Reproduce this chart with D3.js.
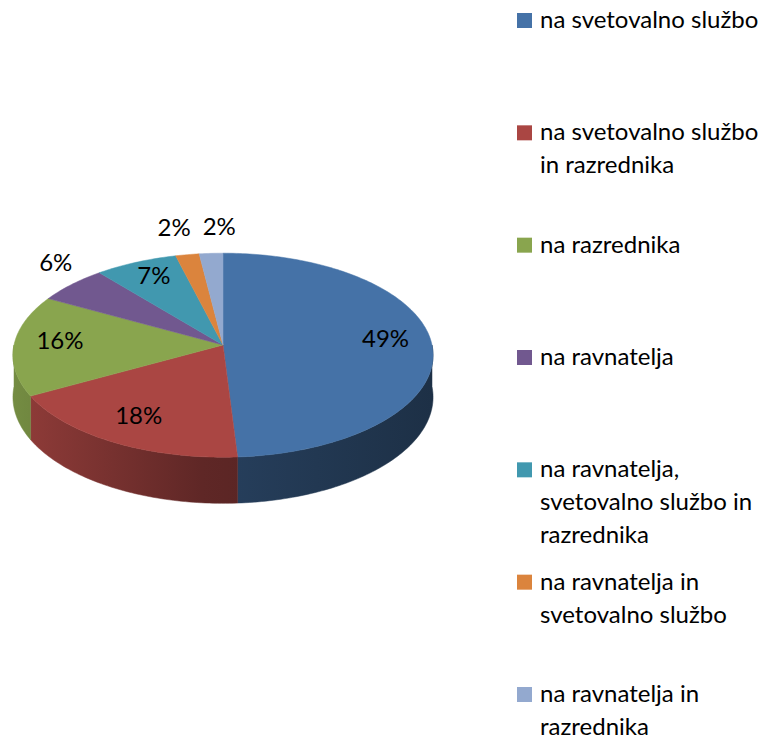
<!DOCTYPE html>
<html>
<head>
<meta charset="utf-8">
<script src="https://cdn.jsdelivr.net/npm/d3@7"></script>
<style>
  body { margin: 0; background: #fff; }
  svg { display: block; font-family: Lato, "Open Sans", sans-serif; }
</style>
</head>
<body>
<div id="chart"></div>
<script>
// legend entries, already broken into lines as in the original
const categories = [
  ["na svetovalno službo"],
  ["na svetovalno službo", "in razrednika"],
  ["na razrednika"],
  ["na ravnatelja"],
  ["na ravnatelja,", "svetovalno službo in", "razrednika"],
  ["na ravnatelja in", "svetovalno službo"],
  ["na ravnatelja in", "razrednika"]
];
const values = [49, 18, 16, 6, 7, 2, 2];
const colors = ["#4572A7", "#AA4643", "#89A54E", "#71588F", "#4198AF", "#DB843D", "#93A9CF"];

const width = 767, height = 740;

// tilted pie with a bit of perspective
const cx = 223, cy = 345;
const rx = 209, ry = 101, persp = 0.1, depth = 41.5;
const insideMin = 7;

function project(theta, r = 1, drop = 0) {
  const s = Math.sin(theta), c = Math.cos(theta);
  const w = 1 + persp * r * c;
  return [cx + rx * r * s / w, cy - ry * r * c / w + drop / (1 + persp * c)];
}

function arcPoints(a0, a1, drop) {
  const n = Math.max(2, Math.ceil((a1 - a0) / (Math.PI / 180)));
  return d3.range(n + 1).map(i => project(a0 + (a1 - a0) * i / n, 1, drop));
}

const svg = d3.select("#chart")
  .append("svg")
  .attr("width", width)
  .attr("height", height);

const color = d3.scaleOrdinal().domain(d3.range(values.length)).range(colors);

const arcs = d3.pie().sort(null).value(d => d)(values);
const total = d3.sum(values);

// side shading: lighter on the left, dark on the right
const defs = svg.append("defs");
arcs.forEach((d, i) => {
  const base = d3.rgb(color(i));
  const g = defs.append("linearGradient")
    .attr("id", `side${i}`)
    .attr("gradientUnits", "userSpaceOnUse")
    .attr("x1", cx - rx).attr("x2", cx + rx)
    .attr("y1", 0).attr("y2", 0);
  [[0, 0.85], [0.45, 0.56], [1, 0.42]].forEach(([o, f]) => {
    g.append("stop")
      .attr("offset", o)
      .attr("stop-color", d3.rgb(base.r * f, base.g * f, base.b * f).formatHex());
  });
});

const line = d3.line();

// outer walls, front half only
svg.append("g").selectAll("path")
  .data(arcs.filter(d => d.endAngle > Math.PI / 2 && d.startAngle < 3 * Math.PI / 2))
  .join("path")
  .attr("d", d => {
    const a0 = Math.max(d.startAngle, Math.PI / 2);
    const a1 = Math.min(d.endAngle, 3 * Math.PI / 2);
    const pts = arcPoints(a0, a1, 0).concat(arcPoints(a0, a1, depth).reverse());
    return line(pts) + "Z";
  })
  .attr("fill", d => `url(#side${d.index})`)
  .attr("stroke", d => `url(#side${d.index})`)
  .attr("stroke-width", 0.5);

// top faces
svg.append("g").selectAll("path")
  .data(arcs)
  .join("path")
  .attr("d", d => line([project(0, 0)].concat(arcPoints(d.startAngle, d.endAngle, 0))) + "Z")
  .attr("fill", d => color(d.index))
  .attr("stroke", d => color(d.index))
  .attr("stroke-width", 0.5);

// data labels
const fmt = v => Math.round(v / total * 100) + "%";
const labelSize = 24;
const labels = svg.append("g")
  .attr("font-size", labelSize)
  .attr("fill", "#000")
  .attr("text-anchor", "middle");

const inner = arcs.filter(d => d.data >= insideMin);
labels.selectAll("text.in")
  .data(inner)
  .join("text")
  .attr("class", "in")
  .attr("dy", "0.35em")
  .attr("x", d => project((d.startAngle + d.endAngle) / 2, 0.78)[0])
  .attr("y", d => project((d.startAngle + d.endAngle) / 2, 0.78)[1] - 4)
  .text(d => fmt(d.data));

const outer = arcs.filter(d => d.data < insideMin).map(d => {
  const mid = (d.startAngle + d.endAngle) / 2;
  const [ex, ey] = project(mid, 1);
  return { d, mid, ex, ey };
});
const outerText = labels.selectAll("text.out")
  .data(outer)
  .join("text")
  .attr("class", "out")
  .attr("dy", "0.35em")
  .text(o => fmt(o.d.data));

outerText.each(function (o) {
  const bb = this.getBBox();
  o.w = bb.width; o.h = bb.height * 0.75;
  o.x = o.ex + Math.sin(o.mid) * (o.w / 2 + 4);
  o.y = o.ey - Math.cos(o.mid) * (o.h / 2 + 4) - 12;
});
// push apart labels that overlap
const gap = 12;
for (let iter = 0; iter < 10; iter++) {
  outer.sort((p, q) => p.x - q.x);
  for (let j = 1; j < outer.length; j++) {
    const p = outer[j - 1], q = outer[j];
    const need = (p.w + q.w) / 2 + gap;
    if (Math.abs(p.y - q.y) < p.h && q.x - p.x < need) {
      const shift = (need - (q.x - p.x)) / 2;
      p.x -= shift; q.x += shift;
    }
  }
}
outerText.attr("x", o => o.x).attr("y", o => o.y);

// legend
const legendY = d3.scaleLinear().domain([0, categories.length - 1]).range([28, 702]);
const lineH = 33;
const legend = svg.append("g").attr("font-size", 24).attr("fill", "#000");
const item = legend.selectAll("g")
  .data(categories)
  .join("g")
  .attr("transform", (d, i) => `translate(517,${legendY(i)})`);
item.append("rect")
  .attr("x", 0).attr("y", -15)
  .attr("width", 15).attr("height", 15)
  .attr("fill", (d, i) => color(i));
item.append("text")
  .attr("x", 23)
  .selectAll("tspan")
  .data(d => d)
  .join("tspan")
  .attr("x", 23)
  .attr("y", (d, j) => j * lineH)
  .text(d => d);
</script>
</body>
</html>
